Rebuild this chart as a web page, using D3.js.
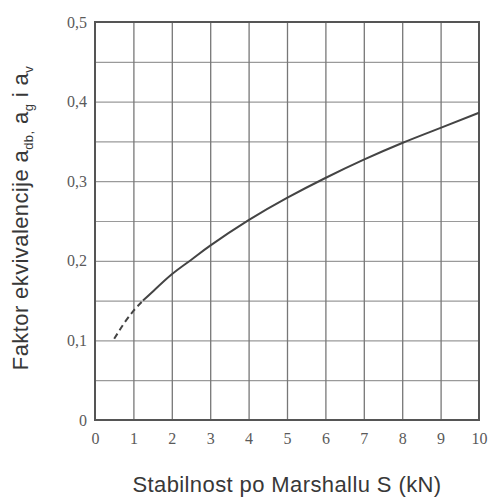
<!DOCTYPE html>
<html lang="en">
	<head>
		<meta charset="utf-8">
		<title>Faktor ekvivalencije</title>
		<script type="text/javascript" src="https://cdn.jsdelivr.net/npm/d3@7"></script>
		<style type="text/css">
			* {
				margin: 0;
				padding: 0;
			}
			body {
				background-color: white;
			}
			svg {
				display: block;
			}
			.tick text {
				font-family: "Liberation Serif", "Times New Roman", serif;
				font-size: 16px;
				fill: #5a5a5a;
			}
			.domain {
				display: none;
			}
			.title {
				font-family: "Liberation Sans", Arial, sans-serif;
				font-size: 22px;
				letter-spacing: 0.4px;
				fill: #383838;
			}
		</style>
	</head>
	<body>
		<script type="text/javascript">

			//Width and height
			var w = 488;
			var h = 497;
			var margin = {top: 22, right: 9, bottom: 77, left: 95};

			//Data
			var stability = [0.5, 0.75, 1, 1.25, 1.5, 2, 2.5, 3, 4, 5, 6, 7, 8, 9, 10];
			var factor = [0.102, 0.121, 0.137, 0.150, 0.161, 0.183, 0.201, 0.219, 0.251, 0.279, 0.304, 0.327, 0.348, 0.367, 0.386];
			var dashedUntil = 1.25;  //first part of the curve is dashed

			var xTicks = [0, 1, 2, 3, 4, 5, 6, 7, 8, 9, 10];
			var yTicks = [0, 0.1, 0.2, 0.3, 0.4, 0.5];
			var yTickLabels = ["0", "0,1", "0,2", "0,3", "0,4", "0,5"];
			var yGrid = [0.05, 0.1, 0.15, 0.2, 0.25, 0.3, 0.35, 0.4, 0.45];

			var points = stability.map(function(s, i) { return {s: s, f: factor[i]}; });

			var svg = d3.select("body")
				.append("svg")
				.attr("width", w)
				.attr("height", h);

			var pw = w - margin.left - margin.right;
			var ph = h - margin.top - margin.bottom;

			var xScale = d3.scaleLinear().domain([0, 10]).range([margin.left, margin.left + pw]);
			var yScale = d3.scaleLinear().domain([0, 0.5]).range([margin.top + ph, margin.top]);

			//horizontal grid
			svg.append("g")
				.attr("class", "hgrid")
				.attr("transform", "translate(" + margin.left + ",0)")
				.call(d3.axisLeft(yScale).tickValues(yGrid).tickSize(-pw).tickFormat(""))
				.selectAll("line")
				.attr("stroke", "#9a9a9a")
				.attr("stroke-width", 1.2);

			//vertical grid
			svg.append("g")
				.attr("class", "vgrid")
				.attr("transform", "translate(0," + (margin.top + ph) + ")")
				.call(d3.axisBottom(xScale).tickValues(xTicks.slice(1, -1)).tickSize(-ph).tickFormat(""))
				.selectAll("line")
				.attr("stroke", "#777")
				.attr("stroke-width", 1.3);

			//frame
			svg.append("rect")
				.attr("x", margin.left)
				.attr("y", margin.top)
				.attr("width", pw)
				.attr("height", ph)
				.attr("fill", "none")
				.attr("stroke", "#555")
				.attr("stroke-width", 2);

			//axis labels
			svg.append("g")
				.attr("transform", "translate(" + margin.left + ",0)")
				.call(d3.axisLeft(yScale).tickValues(yTicks).tickSize(0).tickPadding(8)
					.tickFormat(function(d, i) { return yTickLabels[i]; }));

			svg.append("g")
				.attr("transform", "translate(0," + (margin.top + ph) + ")")
				.call(d3.axisBottom(xScale).tickValues(xTicks).tickSize(0).tickPadding(13));

			//curve
			var line = d3.line()
				.x(function(d) { return xScale(d.s); })
				.y(function(d) { return yScale(d.f); })
				.curve(d3.curveNatural);

			svg.append("path")
				.datum(points.filter(function(d) { return d.s <= dashedUntil; }))
				.attr("d", line)
				.attr("fill", "none")
				.attr("stroke", "#444")
				.attr("stroke-width", 2)
				.attr("stroke-dasharray", "6,4");

			svg.append("path")
				.datum(points.filter(function(d) { return d.s >= dashedUntil; }))
				.attr("d", line)
				.attr("fill", "none")
				.attr("stroke", "#444")
				.attr("stroke-width", 2);

			//x title
			svg.append("text")
				.attr("class", "title")
				.attr("x", 287)
				.attr("y", 492)
				.attr("text-anchor", "middle")
				.text("Stabilnost po Marshallu S (kN)");

			//y title with subscripts
			var yTitle = svg.append("text")
				.attr("class", "title")
				.attr("text-anchor", "middle")
				.attr("transform", "translate(28,218) rotate(-90)");

			yTitle.append("tspan").text("Faktor ekvivalencije a");
			yTitle.append("tspan").attr("font-size", "13px").attr("dy", 5).text("db,");
			yTitle.append("tspan").attr("dy", -5).text(" a");
			yTitle.append("tspan").attr("font-size", "13px").attr("dy", 5).text("g");
			yTitle.append("tspan").attr("dy", -5).text(" i a");
			yTitle.append("tspan").attr("font-size", "13px").attr("dy", 5).text("v");

		</script>
	</body>
</html>
